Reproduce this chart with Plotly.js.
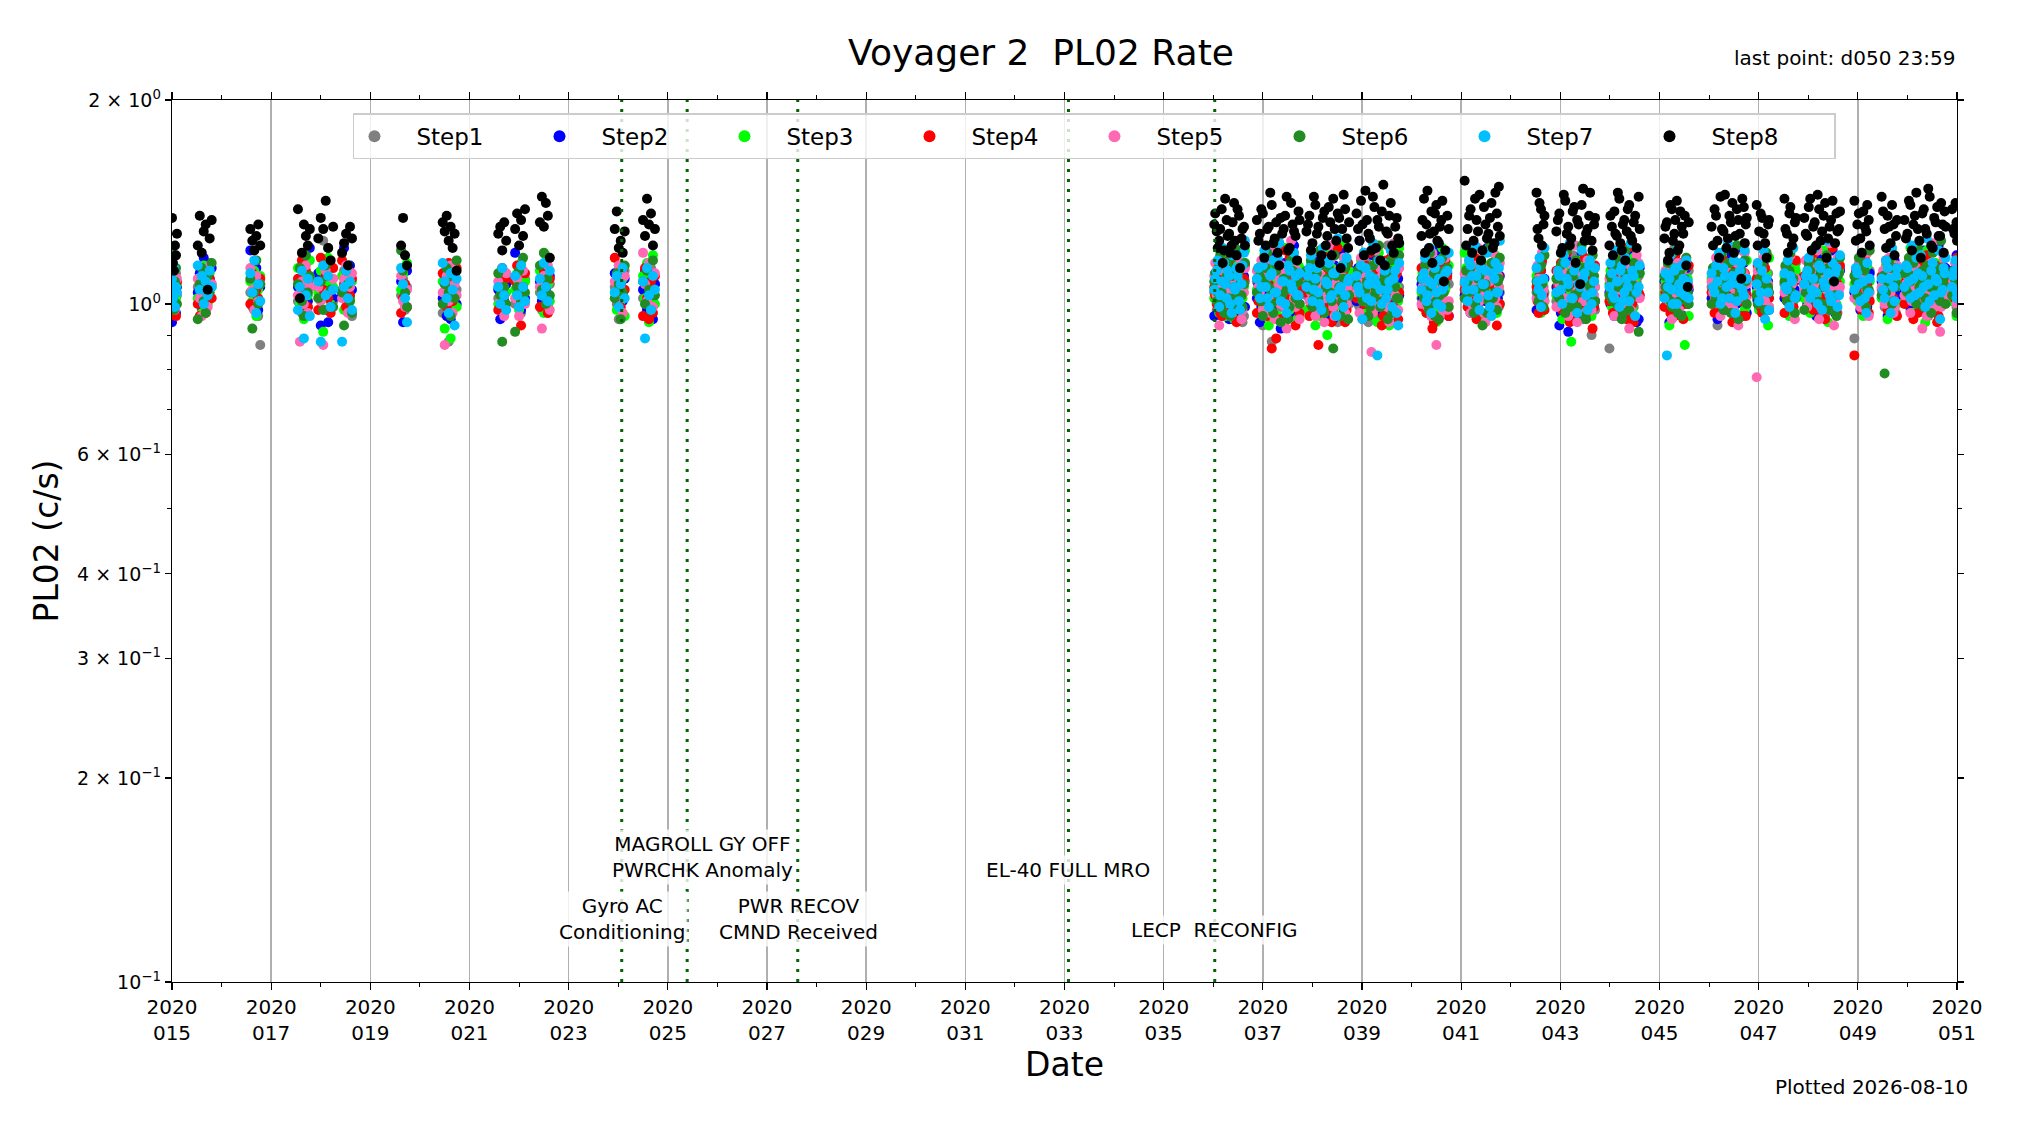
<!DOCTYPE html>
<html>
<head>
<meta charset="utf-8">
<script src="https://cdn.plot.ly/plotly-3.0.1.min.js"></script>
<style>html,body{margin:0;padding:0;background:#fff}</style>
</head>
<body>
<div id="pl02" style="width:2019px;height:1133px"></div>
<script>
//sample times, day of year 2020 (fractional)
var days = [
  15.00,15.02,15.04,15.06,15.08,15.10,
  15.52,15.56,15.60,15.64,15.68,15.72,15.76,15.80,
  16.58,16.62,16.66,16.70,16.74,16.78,
  17.54,17.58,17.62,17.66,17.70,17.74,17.78,
  17.95,18.00,18.05,18.10,18.15,18.20,18.25,
  18.43,18.47,18.51,18.55,18.59,18.63,
  19.62,19.66,19.70,19.74,
  20.46,20.50,20.54,20.58,20.62,20.66,20.70,20.74,
  21.58,21.62,21.66,21.70,21.74,
  21.92,21.96,22.00,22.04,22.08,22.12,
  22.42,22.46,22.50,22.54,22.58,22.62,
  23.93,23.97,24.01,24.05,24.09,24.13,
  24.50,24.54,24.58,24.62,24.66,24.70,24.74,
  //after LECP reconfig
  36.02,36.07,36.12,36.17,36.22,36.27,36.32,36.37,36.42,36.47,36.52,36.57,36.62,
  36.88,36.94,37.00,37.06,37.12,37.18,37.24,37.30,37.36,37.42,37.48,37.54,37.60,37.66,37.72,
  37.88,37.94,38.00,38.06,38.12,38.18,38.24,38.30,38.36,38.42,38.48,38.54,38.60,38.66,38.72,
  38.89,38.95,39.01,39.07,39.13,39.19,39.25,39.31,39.37,39.43,39.49,39.55,39.61,39.67,39.73,
  40.20,40.25,40.30,40.35,40.40,40.45,40.50,40.55,40.60,40.65,40.72,
  41.07,41.13,41.19,41.25,41.31,41.37,41.43,41.49,41.55,41.61,41.67,41.72,41.76,
  42.52,42.56,42.61,42.66,
  42.92,42.98,43.04,43.10,43.16,43.22,43.28,43.34,43.40,43.46,43.52,43.58,43.63,43.68,
  43.99,44.04,44.09,44.14,44.19,44.24,44.29,44.34,44.39,44.45,44.51,44.58,
  45.10,45.15,45.20,45.25,45.30,45.35,45.40,45.45,45.51,45.57,
  46.05,46.11,46.17,46.23,46.29,46.35,46.41,46.47,46.53,46.59,46.65,46.70,46.74,
  46.96,47.01,47.07,47.13,47.19,
  47.52,47.57,47.62,47.67,47.73,
  47.92,47.98,48.04,48.10,48.16,48.22,48.28,48.34,48.40,48.46,48.52,48.57,48.62,
  48.93,48.99,49.05,49.11,49.17,49.22,
  49.48,49.54,49.60,49.66,49.72,49.77,
  49.94,50.00,50.06,50.12,50.18,50.24,50.30,50.36,50.42,50.48,50.54,50.60,50.66,50.71,50.75,
  50.90,50.95,50.99,
  //second sweep, days 36-51
  36.04,36.09,36.14,36.19,36.24,36.29,36.34,36.39,36.44,36.49,36.54,36.59,36.64,
  36.91,36.97,37.03,37.09,37.15,37.21,37.27,37.33,37.39,37.45,37.51,37.57,37.63,37.69,37.74,
  37.91,37.97,38.03,38.09,38.15,38.21,38.27,38.33,38.39,38.45,38.51,38.57,38.63,38.69,38.74,
  38.92,38.98,39.04,39.10,39.16,39.22,39.28,39.34,39.40,39.46,39.52,39.58,39.64,39.70,39.75,
  40.22,40.27,40.32,40.37,40.42,40.47,40.52,40.57,40.62,40.68,40.75,
  41.10,41.16,41.22,41.28,41.34,41.40,41.46,41.52,41.58,41.64,41.69,41.74,41.78,
  42.54,42.58,42.63,42.68,
  42.95,43.01,43.07,43.13,43.19,43.25,43.31,43.37,43.43,43.49,43.55,43.60,43.65,43.70,
  44.01,44.06,44.11,44.16,44.21,44.26,44.31,44.36,44.42,44.48,44.54,44.60,
  45.12,45.17,45.22,45.27,45.32,45.37,45.42,45.48,45.54,45.59,
  46.08,46.14,46.20,46.26,46.32,46.38,46.44,46.50,46.56,46.62,46.67,46.72,46.76,
  46.98,47.04,47.10,47.16,47.21,
  47.54,47.59,47.64,47.70,47.75,
  47.95,48.01,48.07,48.13,48.19,48.25,48.31,48.37,48.43,48.49,48.54,48.59,48.64,
  48.96,49.02,49.08,49.14,49.19,49.24,
  49.51,49.57,49.63,49.69,49.74,49.79,
  49.97,50.03,50.09,50.15,50.21,50.27,50.33,50.39,50.45,50.51,50.57,50.63,50.68,50.73,50.77,
  50.92,50.97,51.00
];

//          rates (c/s) per energy step
var step1 = [
  1.02,1.08,0.99,1.05,1.11,1.03,
  1.06,1.13,0.98,1.04,1.10,1.01,1.15,1.07,
  1.04,0.99,1.09,1.02,0.96,0.87,
  1.01,1.07,0.97,1.12,1.04,0.99,1.09,
  1.10,1.03,1.24,0.98,1.15,1.06,1.01,
  1.05,1.12,0.99,1.08,1.02,0.96,
  1.03,1.09,0.98,1.06,
  0.97,1.04,1.11,0.88,1.07,1.00,1.13,1.05,
  1.02,1.08,0.98,1.05,1.11,
  1.00,1.06,1.13,0.97,1.03,1.09,
  1.04,0.98,1.10,1.01,0.97,1.07,
  1.06,1.00,0.95,1.08,1.03,1.12,
  1.02,1.09,0.99,1.05,1.13,1.01,1.07,
  1.04,0.98,1.10,1.02,1.15,0.97,1.07,1.01,1.12,0.99,1.05,1.09,0.96,
  1.08,1.01,0.93,1.05,1.12,0.88,1.03,1.10,0.99,1.06,1.14,1.02,0.97,1.08,1.04,
  1.03,1.09,0.98,1.13,1.05,1.00,1.19,1.07,0.96,1.02,1.11,1.04,0.99,1.06,1.10,
  1.06,0.99,1.12,1.03,0.94,1.08,1.01,1.14,1.05,0.97,1.10,1.02,1.07,0.99,1.04,
  1.02,1.08,0.99,1.11,1.04,0.97,1.06,1.13,1.00,1.05,1.09,
  1.07,1.01,1.12,0.98,1.05,1.16,1.03,0.96,1.09,1.02,1.07,1.11,0.99,
  1.04,1.10,0.99,1.06,
  1.01,1.08,0.97,1.12,1.04,0.99,1.06,1.14,1.02,0.95,1.09,1.03,0.90,1.07,
  0.86,1.05,1.11,0.98,1.03,1.08,1.00,1.13,1.06,0.97,1.04,1.10,
  1.03,0.99,1.09,1.05,1.21,1.01,1.07,0.96,1.11,1.04,
  1.06,1.00,0.93,1.10,1.03,1.08,0.98,1.13,1.05,1.01,1.09,0.97,1.04,
  1.02,1.08,0.99,1.05,1.11,
  1.07,1.01,1.10,0.98,1.04,
  1.03,1.09,0.99,1.12,1.05,1.01,1.07,0.96,1.10,1.04,1.00,1.08,1.13,
  0.89,1.04,1.10,0.98,1.06,1.02,
  1.05,0.99,1.09,1.03,1.11,0.97,
  1.02,1.08,0.98,1.13,1.05,1.00,1.10,1.04,0.96,1.07,1.12,1.01,0.99,1.06,1.09,
  1.04,1.10,0.99,
  1.07,1.00,1.14,0.96,1.09,1.03,1.18,0.98,1.05,1.11,1.01,0.94,1.08,
  1.02,1.12,0.97,1.06,1.20,1.00,1.09,0.95,1.14,1.04,0.99,1.17,1.03,1.10,0.96,
  1.11,1.01,1.06,0.97,1.15,1.03,1.08,0.99,1.21,1.05,0.94,1.12,1.02,1.07,1.00,
  1.00,1.10,1.05,1.17,0.98,1.07,1.13,1.02,0.96,1.09,1.22,1.04,0.99,1.11,1.06,
  1.09,1.02,1.16,0.97,1.06,1.12,1.00,1.04,1.19,0.98,1.07,
  1.03,1.14,1.07,0.99,1.11,1.02,1.20,1.05,0.97,1.13,1.01,1.08,1.04,
  1.07,1.01,1.15,1.04,
  1.05,1.13,0.99,1.08,1.02,1.18,0.96,1.10,1.04,1.15,1.00,1.07,1.12,0.98,
  1.10,1.01,1.07,1.16,0.97,1.05,1.12,1.02,1.19,0.99,1.08,1.03,
  1.06,1.13,1.00,1.09,0.97,1.15,1.03,1.08,1.01,1.12,
  1.04,1.11,0.98,1.07,1.17,1.02,1.09,0.96,1.13,1.05,1.20,1.00,1.08,
  1.10,1.03,1.16,1.06,0.99,
  1.05,1.12,1.01,1.08,1.15,
  1.08,1.02,1.15,0.98,1.06,1.11,1.03,1.19,1.00,1.09,1.05,0.97,1.13,
  1.03,1.09,1.16,1.00,1.07,1.12,
  1.08,1.14,1.02,1.06,0.99,1.11,
  1.05,1.11,1.01,1.17,1.07,0.98,1.13,1.03,1.09,1.21,1.00,1.06,1.14,1.02,1.08,
  1.07,1.13,1.01
];
var step2 = [
  0.94,1.08,1.13,1.02,0.97,1.06,
  1.04,1.11,0.99,1.17,1.06,1.01,1.09,1.13,
  1.20,1.08,1.02,1.13,0.98,1.06,
  1.06,0.99,1.14,1.04,1.10,1.01,1.21,
  1.11,0.93,1.05,1.16,0.94,1.08,1.02,
  1.03,1.21,1.09,0.99,1.14,1.05,
  1.08,0.94,1.04,1.12,
  1.02,1.09,0.96,1.13,0.95,1.06,1.11,1.00,
  1.05,0.95,1.10,1.01,1.07,
  1.19,1.04,1.10,0.98,1.07,1.02,
  1.08,1.01,1.13,1.05,0.99,1.10,
  1.11,1.04,0.99,1.07,1.01,1.09,
  1.05,1.12,0.98,1.09,1.03,0.95,1.07,
  0.96,1.06,1.12,0.99,1.18,1.03,0.95,1.09,1.01,1.14,0.97,1.05,1.10,
  1.02,0.94,1.09,1.15,1.04,0.98,1.11,1.06,0.92,1.13,1.00,1.07,0.96,1.10,1.03,
  1.10,1.03,0.97,1.15,1.06,1.00,1.09,1.21,1.04,0.95,1.12,1.07,1.01,0.98,1.13,
  1.01,1.24,1.07,0.96,1.11,1.04,0.99,1.16,1.08,1.02,0.95,1.13,1.05,1.00,1.09,
  1.07,0.99,1.13,1.04,0.96,1.10,1.02,1.16,1.06,0.98,1.11,
  1.03,1.10,0.97,1.14,1.05,0.95,1.08,1.01,1.12,1.06,0.99,1.15,1.04,
  0.98,1.07,1.12,1.02,
  1.06,0.93,1.11,1.03,0.91,1.08,1.00,1.15,1.05,0.97,1.12,1.02,1.09,0.99,
  1.04,1.10,0.96,1.07,1.13,1.01,0.98,1.09,1.05,1.16,1.02,0.95,
  1.08,1.01,0.94,1.12,1.05,0.98,1.09,1.03,1.14,1.00,
  1.02,1.09,0.95,1.13,1.06,0.99,1.11,1.04,0.96,1.08,1.01,1.15,1.05,
  1.06,0.99,1.11,1.03,1.08,
  1.02,1.09,0.97,1.13,1.05,
  1.07,1.00,1.12,1.04,0.96,1.10,1.02,1.16,1.06,0.99,1.09,1.03,1.13,
  1.04,1.10,0.98,1.06,1.12,1.01,
  1.08,1.02,0.96,1.11,1.05,1.00,
  1.05,1.12,0.99,1.07,1.02,1.15,1.04,0.97,1.10,1.06,1.00,1.13,1.03,1.08,1.17,
  1.12,1.05,1.18,
  1.11,1.04,0.97,1.16,1.08,1.01,1.13,0.95,1.06,1.20,1.02,1.09,0.99,
  1.07,0.99,1.13,1.04,1.19,1.01,0.96,1.10,1.06,1.15,0.98,1.03,1.22,1.08,1.00,
  1.04,1.12,0.99,1.08,1.17,1.02,0.95,1.10,1.06,1.14,1.01,1.19,0.97,1.07,1.11,
  1.13,1.05,0.98,1.10,1.02,1.18,1.07,0.96,1.12,1.04,1.00,1.15,1.08,1.23,1.03,
  1.02,1.14,1.07,0.99,1.11,1.04,1.20,1.00,1.08,1.13,0.96,
  1.09,1.01,1.17,1.05,0.98,1.12,1.03,1.21,1.07,0.99,1.14,1.02,1.10,
  1.05,1.14,1.01,1.09,
  1.10,0.97,1.06,1.16,1.02,1.12,0.95,1.08,1.19,1.04,0.99,1.14,1.06,1.01,
  1.00,1.08,1.15,1.03,0.97,1.11,1.06,1.20,1.01,1.09,0.94,1.13,
  1.03,1.11,1.06,0.99,1.16,1.02,1.09,0.96,1.13,1.05,
  1.07,1.14,1.01,1.10,0.98,1.18,1.04,1.12,1.00,1.08,1.21,1.03,0.97,
  1.01,1.09,1.15,1.04,0.98,
  1.08,1.14,1.03,0.99,1.10,
  1.03,1.11,1.07,0.99,1.17,1.05,1.13,1.01,1.09,1.20,0.97,1.06,1.12,
  1.09,1.02,1.15,1.05,0.99,1.11,
  1.04,1.12,1.07,1.00,1.16,1.03,
  1.10,1.03,1.16,1.06,1.12,0.99,1.20,1.08,1.02,1.14,1.05,1.22,1.09,1.01,1.13,
  1.09,1.15,1.03
];
var step3 = [
  1.17,1.04,0.99,1.10,1.02,1.07,
  1.02,1.09,0.97,1.14,1.05,1.00,1.11,1.06,
  1.08,1.01,1.12,0.96,1.05,1.10,
  1.13,1.00,1.07,0.95,1.10,1.03,1.16,
  1.04,1.12,0.91,1.08,1.17,1.00,1.06,
  1.10,0.98,1.05,1.14,1.02,1.08,
  1.05,1.11,0.99,1.15,
  1.08,0.92,1.02,1.14,0.89,1.06,1.11,0.99,
  1.00,1.06,1.12,0.97,1.04,
  1.05,1.11,0.98,1.15,1.02,1.08,
  1.12,1.03,0.97,1.18,1.07,1.01,
  1.04,0.98,1.14,1.01,1.09,0.96,
  1.10,1.02,1.15,0.94,1.06,1.18,1.00,
  1.02,1.09,0.97,1.13,1.05,0.99,1.11,1.04,0.95,1.08,1.01,1.15,1.06,
  1.05,1.11,0.99,1.16,0.93,1.08,1.02,0.96,1.13,1.04,1.10,0.98,1.07,1.01,1.14,
  0.98,1.06,1.12,0.93,1.09,1.03,1.17,0.90,1.05,1.11,1.00,1.08,1.14,0.97,1.04,
  1.09,1.02,1.15,0.97,1.06,1.12,1.00,0.94,1.08,1.03,1.11,0.93,1.05,1.13,1.01,
  1.04,1.10,0.97,1.14,1.06,1.01,0.94,1.09,1.03,1.12,0.99,
  1.19,1.05,0.98,1.11,1.02,1.08,0.95,1.14,1.04,1.00,1.10,0.97,1.06,
  1.10,1.03,0.97,1.08,
  1.03,1.09,0.95,1.13,1.06,0.88,1.01,1.11,1.05,0.99,1.15,1.03,0.96,1.08,
  1.07,0.99,1.12,1.04,0.96,1.10,1.02,1.16,1.06,0.98,1.09,1.03,
  1.04,1.10,0.93,1.07,1.01,1.13,0.98,1.05,0.87,1.09,
  1.09,1.03,1.15,0.97,1.06,1.00,1.12,1.04,0.95,1.10,1.02,1.07,0.99,
  1.04,0.98,1.10,1.06,0.93,
  1.10,1.03,0.96,1.07,1.13,
  1.02,1.08,0.97,1.14,1.05,0.99,1.11,1.03,0.94,1.09,1.06,1.00,1.12,
  1.07,1.01,1.13,0.96,1.04,1.09,
  1.02,1.11,0.95,1.06,1.00,1.09,
  1.08,1.02,1.21,0.97,1.05,1.11,1.00,0.94,1.07,1.13,1.03,0.98,1.10,1.04,1.06,
  1.01,1.07,0.96,
  1.06,1.13,1.01,1.09,0.96,1.17,1.04,1.11,0.99,1.14,1.07,1.02,1.20,
  1.09,1.02,1.18,1.06,1.12,0.97,1.15,1.03,1.08,1.21,1.00,1.11,1.05,0.95,1.13,
  1.08,1.15,1.02,1.11,0.96,1.06,1.19,1.04,1.13,0.99,1.09,1.23,1.01,1.07,1.12,
  1.04,1.16,1.08,1.00,1.13,0.96,1.10,1.19,1.03,1.07,1.15,0.98,1.11,1.06,1.21,
  1.11,1.00,1.07,1.17,1.03,1.13,0.98,1.09,1.21,1.05,1.14,
  1.13,1.06,1.21,1.01,1.10,1.16,1.03,1.08,0.97,1.12,1.18,1.05,1.00,
  1.12,1.06,1.18,1.01,
  1.07,1.14,1.01,1.20,1.05,1.10,0.97,1.16,1.03,1.08,1.13,0.99,1.18,1.06,
  1.12,1.05,1.19,1.00,1.08,1.14,1.03,1.09,0.97,1.17,1.06,1.11,
  1.08,1.15,1.02,1.11,1.19,1.05,1.00,1.13,1.07,0.96,
  1.13,1.06,1.02,1.18,1.09,1.14,1.00,1.07,1.22,1.04,1.11,0.98,1.16,
  1.08,1.15,1.02,1.11,1.17,
  1.05,1.16,1.09,1.01,1.12,
  1.10,1.04,1.17,1.07,1.13,1.00,1.20,1.06,1.11,0.98,1.15,1.03,1.08,
  1.11,1.05,1.18,1.02,1.14,1.08,
  1.07,1.13,1.03,1.17,1.10,1.00,
  1.12,1.06,1.17,1.02,1.09,1.14,1.04,1.20,1.07,0.99,1.15,1.10,1.03,1.18,1.08,
  1.04,1.12,1.08
];
var step4 = [
  0.97,1.05,1.10,1.00,0.96,1.08,
  1.00,0.96,1.07,1.12,0.97,1.04,1.09,1.02,
  1.00,1.11,0.98,1.05,1.02,1.09,
  1.09,0.98,1.16,1.03,1.12,0.99,1.06,
  0.98,1.17,1.05,1.10,1.02,0.97,1.13,
  1.16,1.07,0.99,1.12,1.03,1.09,
  0.97,1.02,1.07,0.99,
  1.11,1.04,0.99,1.15,1.07,1.01,1.09,1.13,
  0.98,1.07,1.13,1.03,1.09,
  1.08,1.14,1.02,0.93,1.06,1.11,
  0.99,1.07,1.12,1.03,0.97,1.09,
  1.17,1.08,1.02,0.99,1.12,1.05,
  0.96,1.13,1.02,0.95,1.08,0.97,1.10,
  1.06,1.00,1.13,0.96,1.08,1.02,1.16,0.99,1.05,0.94,1.11,1.03,1.09,
  0.97,1.05,1.11,0.99,1.07,0.86,1.02,1.14,0.95,1.09,1.03,1.17,1.00,0.93,1.06,
  1.04,0.96,1.10,1.02,0.87,1.07,0.99,1.13,1.05,0.97,1.11,1.01,1.08,0.94,1.15,
  1.02,1.09,0.95,1.14,1.04,0.98,1.11,1.01,1.07,0.96,1.16,1.03,0.99,1.10,0.95,
  1.13,1.04,0.97,1.09,1.01,0.94,1.07,1.15,1.03,0.99,1.10,
  1.05,0.99,1.15,1.02,0.95,1.09,1.04,1.12,0.97,1.07,1.01,0.93,1.10,
  1.06,0.97,1.12,1.03,
  1.12,1.04,0.98,1.09,1.01,0.95,1.14,1.06,1.00,1.10,0.97,1.05,1.13,0.99,
  1.01,1.14,1.05,0.97,1.10,1.03,1.18,0.95,1.07,1.00,1.12,1.04,
  0.99,1.06,1.12,1.02,0.96,1.09,1.04,1.15,1.00,1.07,
  1.04,0.97,1.10,1.02,1.16,0.99,1.07,0.94,1.12,1.05,1.01,1.09,0.96,
  1.09,1.02,0.97,1.13,1.05,
  0.97,1.05,1.11,1.01,1.08,
  1.10,1.04,1.16,0.98,1.07,1.01,1.13,0.95,1.09,1.03,1.11,0.97,1.06,
  0.84,1.06,1.13,1.00,1.09,0.97,
  1.10,1.04,0.98,1.14,1.02,1.07,
  1.00,1.06,1.12,0.95,1.09,1.03,1.15,0.98,1.05,1.11,1.01,0.94,1.08,1.13,1.02,
  1.08,1.02,1.14,
  1.03,1.10,0.97,1.15,1.06,0.99,1.12,1.02,1.19,1.07,0.95,1.09,1.14,
  1.01,1.08,1.15,0.96,1.11,1.04,0.89,1.13,1.06,1.20,0.99,1.09,1.03,1.16,0.97,
  1.09,1.00,1.14,1.05,0.97,1.18,1.03,1.10,0.94,1.07,1.21,1.01,1.12,0.98,1.06,
  1.06,1.14,1.00,1.09,1.19,0.97,1.05,1.12,0.93,1.08,1.02,1.17,0.99,1.11,1.04,
  0.99,1.11,1.05,1.18,0.92,1.08,1.13,1.01,1.06,1.16,0.96,
  1.10,1.02,1.08,1.17,0.99,1.13,1.05,0.96,1.20,1.03,1.09,1.14,1.00,
  1.01,1.10,1.16,0.98,
  1.06,1.15,1.01,1.19,0.94,1.08,1.12,1.03,0.98,1.17,1.05,1.10,0.92,1.14,
  1.07,0.97,1.12,1.02,1.16,1.05,0.99,1.21,1.09,0.94,1.13,1.03,
  1.04,1.13,0.97,1.08,1.18,1.01,1.11,0.95,1.06,1.14,
  1.09,1.02,1.18,0.98,1.12,1.05,1.21,1.00,1.08,1.14,0.96,1.11,1.03,
  1.14,0.99,1.07,1.18,1.02,
  1.03,1.12,1.07,0.99,1.16,
  1.05,1.13,1.00,1.19,1.08,0.96,1.15,1.03,1.11,1.21,0.99,1.07,1.14,
  1.12,1.04,0.98,1.17,1.07,1.01,
  1.05,1.16,1.00,1.09,1.13,0.96,
  1.08,1.15,1.03,1.20,0.97,1.11,1.05,1.18,1.00,1.09,1.14,0.96,1.06,1.19,1.03,
  1.11,1.05,1.17
];
var step5 = [
  1.06,1.00,1.12,0.98,1.04,1.09,
  1.09,1.02,0.96,1.12,1.05,0.99,1.14,1.07,
  1.13,1.05,0.98,1.10,1.01,1.07,
  1.03,0.88,1.08,1.00,1.14,0.97,1.06,
  1.06,1.01,0.87,1.12,1.04,0.99,1.09,
  1.02,1.09,1.14,0.97,1.06,1.11,
  1.10,1.01,0.99,1.05,
  1.04,0.87,1.10,1.01,1.14,0.97,1.07,1.03,
  1.08,1.01,1.04,0.96,1.11,
  1.02,1.09,0.96,1.04,1.12,1.00,
  1.06,0.92,1.10,1.02,1.14,0.98,
  1.08,1.02,1.14,1.05,0.97,1.10,
  1.19,1.07,1.01,1.15,1.04,0.99,1.11,
  1.10,1.03,0.93,1.07,1.00,1.14,1.05,0.97,1.11,1.02,1.08,0.95,1.04,
  1.12,1.04,0.98,1.09,1.02,1.16,0.95,1.06,1.00,1.11,0.92,1.05,1.13,0.99,1.08,
  1.07,1.01,1.13,0.96,1.05,1.10,0.94,1.03,1.16,0.99,1.08,1.02,1.12,0.97,1.06,
  1.04,0.97,1.11,1.02,1.08,0.85,1.05,0.99,1.13,1.01,1.07,0.94,1.10,1.03,0.98,
  1.00,1.08,1.03,1.13,0.96,1.06,0.87,1.10,1.02,1.05,0.98,
  1.11,1.03,0.97,1.07,1.14,1.01,1.05,0.94,1.09,1.02,1.12,0.99,1.06,
  1.02,1.09,0.99,1.05,
  0.99,1.07,1.12,1.02,0.96,1.09,1.04,0.94,1.11,1.01,1.06,1.14,0.98,1.03,
  1.09,1.02,0.96,1.13,1.05,0.99,1.07,1.01,0.92,1.10,1.04,1.15,
  1.06,1.12,1.01,0.95,1.08,1.03,0.98,1.10,1.05,1.01,
  1.08,1.01,1.12,0.96,1.05,1.14,1.00,1.09,1.03,0.93,1.07,1.11,1.02,
  0.78,1.05,1.10,1.01,1.07,
  1.04,1.10,1.00,1.07,0.95,
  1.05,0.99,1.09,1.13,1.02,0.95,1.07,1.11,1.00,1.06,0.93,1.10,1.04,
  1.02,1.08,0.99,1.12,1.05,0.96,
  1.06,1.00,1.11,1.04,0.97,1.08,
  1.03,1.10,0.97,1.06,1.13,1.01,0.92,1.08,1.04,1.15,0.99,1.06,0.91,1.11,1.02,
  1.05,1.11,1.00,
  1.15,1.06,0.99,1.12,1.04,1.20,0.96,1.09,1.01,1.17,1.07,0.98,1.13,
  1.06,1.16,1.01,1.11,0.97,1.21,1.04,1.09,1.14,0.99,1.07,1.24,1.02,1.12,0.95,
  1.11,1.04,1.19,0.99,1.08,1.14,1.02,1.22,1.06,0.96,1.12,1.05,1.17,1.00,1.09,
  1.08,1.17,1.01,1.12,1.05,0.97,1.20,1.03,1.10,1.15,0.99,1.07,1.23,1.02,1.13,
  1.06,1.15,0.99,1.10,1.19,1.03,1.12,0.96,1.08,1.17,1.01,
  1.07,1.16,1.00,1.11,1.21,1.04,0.97,1.13,1.08,1.19,1.02,1.10,1.15,
  1.14,1.06,1.19,1.01,
  1.11,1.03,1.18,1.07,0.99,1.14,1.22,1.05,1.09,0.97,1.16,1.02,1.12,1.06,
  1.04,1.16,1.08,1.00,1.20,1.11,1.03,1.14,0.98,1.07,1.18,1.02,
  1.12,1.04,1.19,1.08,0.99,1.15,1.02,1.10,1.17,1.06,
  1.04,1.17,1.09,1.00,1.13,1.22,1.06,0.98,1.15,1.10,1.03,1.19,1.07,
  1.12,1.02,1.17,1.07,0.99,
  1.13,1.06,1.18,1.02,1.09,
  1.16,1.02,1.12,1.07,1.20,0.99,1.14,1.05,1.23,1.09,1.01,1.17,1.06,
  1.06,1.15,1.01,1.10,1.19,1.04,
  1.12,1.03,1.17,1.08,0.99,1.14,
  1.07,1.16,1.01,1.12,1.20,1.04,1.09,0.96,1.14,1.23,1.06,1.11,0.99,1.17,1.03,
  1.08,1.15,1.02
];
var step6 = [
  1.19,1.03,0.98,1.08,1.13,1.00,
  0.95,1.07,1.13,1.01,0.97,1.10,1.04,1.15,
  1.09,0.92,1.04,1.16,1.00,1.07,
  1.07,1.13,1.01,0.96,1.18,1.04,1.10,
  1.02,1.08,0.98,1.14,1.21,1.05,0.99,
  1.04,0.93,1.12,1.07,1.01,0.97,
  1.20,1.12,1.04,0.99,
  1.00,1.07,1.13,1.04,0.96,1.10,1.02,1.16,
  1.11,1.03,0.88,1.06,1.00,
  0.91,1.06,1.12,1.01,1.17,1.04,
  1.14,1.05,1.19,1.00,1.09,1.03,
  1.02,1.11,1.07,0.95,1.04,1.14,
  1.08,1.00,1.12,1.05,0.98,1.16,1.03,
  1.08,1.01,1.14,1.04,0.97,1.10,1.02,1.17,1.06,0.99,1.12,1.03,1.07,
  1.04,1.10,0.96,1.13,1.06,1.00,1.15,1.03,0.94,1.09,1.05,0.99,1.12,1.02,1.08,
  1.12,1.05,0.99,1.08,1.02,1.14,0.97,1.09,1.04,0.86,1.10,1.06,1.01,1.13,0.95,
  1.07,1.13,1.01,1.05,0.96,1.10,1.03,1.16,0.99,1.08,1.04,1.12,0.97,1.06,1.02,
  1.09,1.02,1.15,0.98,1.06,1.11,1.01,0.95,1.08,1.04,1.13,
  1.02,1.08,1.13,0.97,1.05,1.10,0.93,1.07,1.01,1.15,1.04,0.98,1.09,
  1.08,1.01,1.14,0.99,
  1.09,1.02,1.15,0.97,1.06,1.11,1.03,0.99,1.08,1.13,0.95,1.07,1.01,1.10,
  1.03,1.08,1.14,1.00,1.06,0.95,1.11,1.04,0.98,1.07,1.13,0.91,
  1.10,1.03,1.07,0.99,1.13,1.05,1.01,0.96,1.09,1.04,
  1.00,1.06,1.11,1.04,0.98,1.09,1.15,1.02,1.07,0.95,1.12,1.03,1.08,
  1.03,1.09,1.14,0.98,1.06,
  1.08,1.01,1.12,1.04,0.97,
  0.98,1.06,1.12,1.03,1.09,1.15,1.00,1.07,1.13,1.02,1.08,0.96,1.11,
  1.10,1.03,1.07,1.14,0.99,1.05,
  1.03,0.79,1.08,1.13,1.01,1.06,
  1.11,1.04,1.08,1.15,1.00,1.06,1.12,1.02,1.09,0.97,1.05,1.13,1.01,1.07,1.10,
  1.03,1.09,0.97,
  1.11,1.04,1.18,1.00,1.08,1.14,0.96,1.10,1.21,1.03,1.07,0.99,1.15,
  1.13,1.01,1.08,1.19,1.05,0.97,1.12,1.23,1.03,1.09,0.95,1.16,1.06,1.11,1.00,
  1.07,1.16,1.02,1.11,1.20,0.98,1.06,1.13,1.01,1.18,1.04,0.96,1.09,1.15,1.03,
  1.12,1.03,1.19,1.08,0.99,1.14,1.05,1.22,1.01,1.10,0.95,1.16,1.07,1.02,1.18,
  1.05,1.14,1.00,1.19,1.08,0.96,1.12,1.03,1.17,1.07,0.99,
  1.12,1.04,1.19,1.00,1.09,1.15,1.06,0.97,1.22,1.02,1.13,1.08,1.17,
  1.04,1.13,1.07,1.18,
  1.03,1.14,1.07,1.20,0.99,1.10,1.16,1.04,1.22,0.96,1.12,1.06,1.18,1.01,
  1.10,1.01,1.17,1.06,1.13,0.97,1.20,1.08,1.02,1.15,1.05,1.11,
  1.06,1.15,1.01,1.19,1.09,0.97,1.12,1.04,1.17,1.00,
  1.13,1.02,1.08,1.19,1.05,1.15,0.97,1.11,1.22,1.04,1.09,1.16,1.00,
  1.00,1.13,1.07,1.19,1.04,
  1.14,1.05,1.19,1.09,1.02,
  1.04,1.15,1.09,1.21,1.01,1.12,1.06,1.18,0.98,1.14,1.03,1.10,1.17,
  1.08,1.17,1.02,1.12,1.05,1.20,
  1.10,1.04,1.16,1.00,1.13,1.07,
  1.05,1.17,1.10,1.02,1.21,1.08,0.99,1.14,1.06,1.19,1.03,1.11,1.24,1.07,1.00,
  1.12,1.06,1.16
];
var step7 = [
  1.09,1.02,1.13,0.99,1.06,1.04,
  1.14,1.05,1.10,1.00,1.08,1.03,1.12,1.06,
  1.11,1.04,1.16,0.97,1.07,1.01,
  0.98,1.06,1.12,0.89,1.03,1.09,0.96,
  1.08,0.88,1.14,1.03,1.10,0.99,1.05,
  0.88,1.06,1.12,1.02,1.08,0.98,
  1.13,1.07,1.02,0.94,
  1.15,1.08,1.02,0.97,1.11,1.05,0.93,1.09,
  1.06,1.00,1.13,1.03,0.98,
  1.10,1.03,0.99,1.14,1.06,1.01,
  1.09,1.03,1.15,1.06,1.01,1.12,
  1.04,1.10,0.99,1.07,1.13,1.02,
  1.08,0.89,1.13,1.03,0.98,1.10,1.05,
  1.05,1.12,0.99,1.08,1.15,1.02,1.10,0.97,1.06,1.13,1.01,1.07,1.19,
  1.09,1.02,1.14,1.06,0.99,1.11,1.04,1.17,1.01,1.08,0.97,1.12,1.05,1.10,1.03,
  1.06,1.13,1.01,1.09,1.04,0.98,1.16,1.07,1.02,1.11,0.96,1.05,1.14,1.03,1.08,
  1.10,1.04,0.95,1.13,1.07,1.01,1.09,0.84,1.05,1.15,1.02,1.08,0.99,1.12,0.93,
  1.05,1.11,1.01,1.08,0.97,1.14,1.04,1.09,0.99,1.06,1.12,
  1.08,1.01,1.14,1.05,1.10,0.98,1.07,1.12,1.03,0.96,1.09,1.04,1.13,
  1.13,1.05,0.99,1.09,
  1.04,1.10,1.00,1.15,1.07,1.02,1.12,0.97,1.06,1.09,1.03,1.14,1.00,1.08,
  1.06,1.11,1.02,1.08,0.99,1.14,1.04,1.09,1.01,1.12,0.96,1.06,
  1.02,0.84,1.09,1.05,1.12,1.00,1.07,1.14,1.03,1.08,
  1.11,1.04,1.08,1.00,1.13,1.06,1.02,1.10,0.97,1.07,1.15,1.03,1.09,
  1.07,1.01,1.12,0.95,1.04,
  1.11,1.05,0.99,1.08,1.02,
  1.07,1.12,1.02,1.09,1.04,1.14,0.98,1.06,1.11,1.01,1.08,1.13,1.03,
  1.05,1.11,1.01,1.08,0.97,1.04,
  1.09,1.02,1.13,0.97,1.06,1.10,
  1.06,1.13,1.02,1.09,1.17,1.04,1.10,0.99,1.07,1.12,1.03,1.08,0.95,1.05,1.11,
  1.06,1.12,1.02,
  1.09,1.16,1.03,1.21,1.07,1.12,1.00,1.18,1.05,1.10,0.98,1.14,1.24,
  1.13,1.06,1.20,1.02,1.10,1.16,1.04,1.23,1.08,1.00,1.14,1.07,1.19,1.03,1.11,
  1.10,1.18,1.05,1.13,1.00,1.21,1.08,1.15,1.03,1.11,1.25,1.06,0.99,1.17,1.09,
  1.06,1.14,1.19,1.02,1.10,1.23,1.07,1.16,1.00,1.12,1.05,1.20,1.09,0.97,1.15,
  1.09,1.17,1.03,1.21,1.07,1.13,1.00,1.16,1.05,1.11,1.19,
  1.05,1.16,1.10,1.22,1.02,1.13,1.07,1.19,0.99,1.11,1.15,1.04,1.24,
  1.08,1.17,1.03,1.21,
  1.12,1.05,1.18,1.09,1.23,1.02,1.14,1.07,1.20,1.11,0.98,1.16,1.04,1.13,
  1.15,1.03,1.20,1.08,1.12,1.01,1.17,1.06,1.23,1.10,1.04,1.14,
  1.11,1.06,1.18,1.00,1.13,1.21,1.04,1.09,1.16,1.02,
  1.06,1.14,1.19,1.02,1.10,1.23,1.07,1.16,1.01,1.12,1.05,1.20,1.09,
  1.15,1.04,1.20,1.09,0.98,
  1.06,1.16,1.10,1.21,1.03,
  1.10,1.17,1.05,1.21,1.00,1.13,1.08,1.24,1.03,1.15,1.11,0.99,1.18,
  1.13,1.07,1.19,1.02,1.15,1.09,
  1.05,1.16,1.09,1.21,1.01,1.13,
  1.14,1.08,1.22,1.03,1.11,1.18,1.06,1.25,1.01,1.15,1.09,1.20,1.04,1.13,1.17,
  1.10,1.16,1.04
];
var step8 = [
  1.34,1.15,1.12,1.22,1.18,1.27,
  1.22,1.35,1.19,1.28,1.31,1.05,1.25,1.33,
  1.29,1.24,1.20,1.26,1.31,1.22,
  1.38,1.02,1.19,1.31,1.26,1.22,1.29,
  1.25,1.34,1.29,1.42,1.21,1.16,1.30,
  1.19,1.23,1.27,1.14,1.30,1.25,
  1.22,1.34,1.18,1.14,
  1.32,1.28,1.35,1.24,1.30,1.21,1.27,1.12,
  1.27,1.30,1.20,1.32,1.24,
  1.29,1.36,1.22,1.33,1.26,1.38,
  1.32,1.44,1.30,1.41,1.35,1.17,
  1.29,1.37,1.21,1.24,1.19,1.28,
  1.33,1.26,1.43,1.31,1.36,1.22,1.29,
  1.31,1.28,1.24,1.38,1.20,1.33,1.27,1.22,1.41,1.18,1.35,1.25,1.30,
  1.33,1.27,1.36,1.22,1.30,1.40,1.25,1.19,1.34,1.29,1.44,1.21,1.31,1.26,1.37,
  1.28,1.35,1.23,1.40,1.30,1.18,1.37,1.26,1.32,1.43,1.24,1.34,1.29,1.38,1.21,
  1.36,1.24,1.31,1.47,1.27,1.20,1.39,1.33,1.16,1.50,1.28,1.35,1.22,1.30,1.25,
  1.26,1.43,1.31,1.21,1.37,1.28,1.40,1.23,1.33,1.08,1.35,
  1.52,1.29,1.38,1.24,1.33,1.45,1.20,1.31,1.27,1.41,1.23,1.36,1.49,
  1.46,1.25,1.38,1.31,
  1.28,1.36,1.21,1.42,1.30,1.25,1.39,1.33,1.07,1.48,1.27,1.35,1.24,1.31,
  1.22,1.30,1.37,1.26,1.43,1.20,1.33,1.28,1.40,1.24,1.35,1.44,
  1.25,1.32,1.19,1.38,1.27,1.42,1.22,1.30,1.35,1.06,
  1.30,1.38,1.24,1.44,1.28,1.21,1.35,1.41,1.26,1.33,1.09,1.39,1.31,
  1.40,1.28,1.34,1.23,1.31,
  1.43,1.27,1.36,1.22,1.32,
  1.34,1.26,1.43,1.30,1.22,1.38,1.28,1.41,1.25,1.33,1.08,1.36,1.29,
  1.42,1.31,1.25,1.37,1.28,1.33,
  1.44,1.29,1.35,1.23,1.31,1.26,
  1.33,1.27,1.40,1.31,1.46,1.24,1.36,1.29,1.48,1.22,1.34,1.39,1.26,1.31,1.37,
  1.38,1.27,1.32,
  1.36,1.21,1.29,1.15,1.43,1.26,1.19,1.32,1.24,1.38,1.13,1.29,1.22,
  1.24,1.38,1.17,1.29,1.46,1.23,1.32,1.14,1.27,1.35,1.20,1.41,1.28,1.16,1.33,
  1.31,1.20,1.44,1.27,1.15,1.34,1.22,1.39,1.18,1.29,1.36,1.13,1.45,1.25,1.32,
  1.29,1.42,1.18,1.33,1.25,1.44,1.21,1.30,1.37,1.14,1.27,1.41,1.19,1.34,1.23,
  1.33,1.19,1.47,1.27,1.15,1.36,1.24,1.30,1.42,1.20,1.29,
  1.22,1.35,1.19,1.43,1.28,1.16,1.39,1.25,1.34,1.21,1.46,1.30,1.26,
  1.29,1.41,1.22,1.35,
  1.33,1.19,1.45,1.27,1.22,1.37,1.15,1.31,1.40,1.24,1.29,1.46,1.20,1.34,
  1.35,1.18,1.27,1.46,1.23,1.31,1.16,1.38,1.26,1.32,1.21,1.29,
  1.30,1.16,1.40,1.24,1.33,1.20,1.37,1.27,1.14,1.32,
  1.22,1.35,1.17,1.29,1.45,1.25,1.32,1.19,1.38,1.27,1.43,1.23,1.34,
  1.22,1.36,1.27,1.17,1.33,
  1.29,1.19,1.39,1.25,1.34,
  1.27,1.39,1.20,1.32,1.45,1.24,1.35,1.17,1.30,1.42,1.23,1.28,1.37,
  1.24,1.36,1.19,1.30,1.40,1.22,
  1.37,1.21,1.30,1.40,1.18,1.33,
  1.25,1.42,1.20,1.35,1.29,1.17,1.38,1.27,1.44,1.21,1.32,1.26,1.41,1.19,1.30,
  1.29,1.41,1.24
];

var stepNames = ['Step1','Step2','Step3','Step4','Step5','Step6','Step7','Step8'];
var stepColors = ['#808080','#0000ff','#00ff00','#ff0000','#ff69b4','#228b22','#00bfff','#000000'];

//          events
var eventDays = [24.07, 25.39, 27.62, 33.08, 36.03];
var labelText = ['Gyro AC<br>Conditioning', 'MAGROLL GY OFF<br>PWRCHK Anomaly', 'PWR RECOV<br>CMND Received', 'EL-40 FULL MRO', 'LECP  RECONFIG'];
var labelDays = [24.07, 25.69, 27.63, 33.08, 36.02];
var labelRates = [0.124, 0.1527, 0.124, 0.1463, 0.1193];

//          axes
var tickDays = [15,17,19,21,23,25,27,29,31,33,35,37,39,41,43,45,47,49,51];
var minorDays = [16,18,20,22,24,26,28,30,32,34,36,38,40,42,44,46,48,50];
var yTickVals = [0.1, 0.2, 0.3, 0.4, 0.6, 1, 2];
var yTickText = ['10<sup>\u22121</sup>', '2 \u00d7 10<sup>\u22121</sup>', '3 \u00d7 10<sup>\u22121</sup>',
                 '4 \u00d7 10<sup>\u22121</sup>', '6 \u00d7 10<sup>\u22121</sup>', '10<sup>0</sup>', '2 \u00d7 10<sup>0</sup>'];
var yMinorVals = [0.5, 0.7, 0.8, 0.9];

function plot()
{
  var stepRates = [step1, step2, step3, step4, step5, step6, step7, step8];
  var traces = stepRates.map(function (rates, i) {
    //non-breaking spaces push the legend text away from its marker
    return {x: days, y: rates, name: '\u00a0\u00a0\u00a0' + stepNames[i], type: 'scatter', mode: 'markers',
            marker: {color: stepColors[i], size: 10, line: {width: 0}}};
  });

  var tickLabels = tickDays.map(function (d) { return '2020<br>' + String(d).padStart(3, '0'); });

  var shapes = [{type: 'line', layer: 'below', xref: 'paper', x0: 0, x1: 1,
                 yref: 'y', y0: Math.log10(1), y1: Math.log10(1),
                 line: {color: '#b0b0b0', width: 1.4}}];
  eventDays.forEach(function (d) {
    shapes.push({type: 'line', xref: 'x', x0: d, x1: d, yref: 'paper', y0: 0, y1: 1,
                 line: {color: '#006400', width: 3, dash: '3px,7px'}});
  });

  var annotations = labelText.map(function (t, i) {
    return {xref: 'x', x: labelDays[i], yref: 'y', y: Math.log10(labelRates[i]), text: t,
            showarrow: false, font: {size: 20}, bgcolor: 'rgba(255,255,255,0.8)', borderpad: 2,
            align: 'center', xanchor: 'center', yanchor: 'middle'};
  });
  annotations.push({xref: 'paper', x: 1, xanchor: 'right', yref: 'paper', y: 1.0476, yanchor: 'middle',
                    text: 'last point: d050 23:59', showarrow: false, font: {size: 20}});
  annotations.push({xref: 'paper', x: 1.0073, xanchor: 'right', yref: 'paper', y: -0.119, yanchor: 'middle',
                    text: 'Plotted 2026-08-10', showarrow: false, font: {size: 20}});

  var layout = {
    width: 2019, height: 1133,
    margin: {l: 172, r: 62, t: 100, b: 151},
    paper_bgcolor: '#ffffff', plot_bgcolor: '#ffffff',
    font: {family: 'DejaVu Sans, sans-serif', color: '#000000'},
    title: {text: 'Voyager 2  PL02 Rate', font: {size: 36},
            xref: 'container', x: 0.5156, xanchor: 'center',
            yref: 'container', y: 0.954, yanchor: 'middle'},
    showlegend: true,
    legend: {orientation: 'h', x: 0.1014, xanchor: 'left', y: 0.985, yanchor: 'top',
             entrywidth: 140, entrywidthmode: 'pixels', font: {size: 23}, itemsizing: 'constant',
             bgcolor: 'rgba(255,255,255,0.8)', bordercolor: '#cccccc', borderwidth: 1.5},
    xaxis: {
      range: [15, 51], tickmode: 'array', tickvals: tickDays, ticktext: tickLabels,
      tickfont: {size: 20}, ticks: 'outside', ticklen: 7, tickwidth: 1.3, tickcolor: '#000',
      showline: true, linecolor: '#000', linewidth: 1.3, mirror: 'allticks',
      showgrid: true, gridcolor: '#b0b0b0', gridwidth: 1.4, zeroline: false,
      minor: {tickmode: 'array', tickvals: minorDays, ticks: 'outside', ticklen: 4,
              tickwidth: 1, tickcolor: '#000', showgrid: false},
      title: {text: 'Date', font: {size: 33}, standoff: 8}
    },
    yaxis: {
      type: 'log', range: [Math.log10(0.1), Math.log10(2)],
      tickmode: 'array', tickvals: yTickVals, ticktext: yTickText,
      tickfont: {size: 19}, ticks: 'outside', ticklen: 6, tickwidth: 1.3, tickcolor: '#000',
      showline: true, linecolor: '#000', linewidth: 1.3, mirror: 'allticks',
      showgrid: false, zeroline: false,
      minor: {tickmode: 'array', tickvals: yMinorVals, ticks: 'outside', ticklen: 4,
              tickwidth: 1, tickcolor: '#000', showgrid: false},
      title: {text: 'PL02 (c/s)', font: {size: 33}, standoff: 8}
    },
    shapes: shapes,
    annotations: annotations
  };

  Plotly.newPlot('pl02', traces, layout, {staticPlot: true});
}
plot();
</script>
</body>
</html>
